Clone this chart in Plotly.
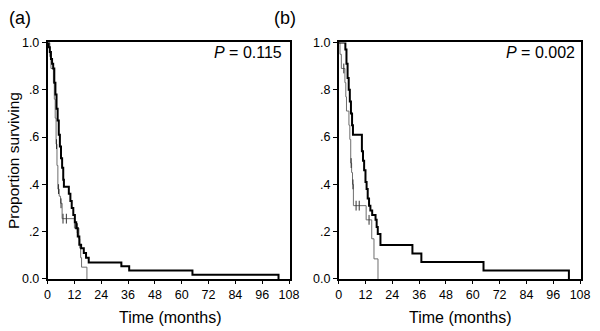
import plotly.graph_objects as go

# ---------------- data ----------------
# Panel (a)
a_thick_t = [0, 0.5, 1.0, 1.5, 2.0, 2.5, 3.0, 3.5, 4.0, 4.5, 5.0, 5.5, 6.0, 6.5, 7.0, 7.3, 9.5, 10.2, 10.8, 11.5, 12.2, 12.8, 13.5, 14.2, 15.0, 16.2, 17.2, 18.4, 33.0, 36.5, 64.8, 103.3]
a_thick_s = [1.0, 0.98, 0.96, 0.93, 0.91, 0.89, 0.83, 0.78, 0.72, 0.67, 0.61, 0.56, 0.51, 0.47, 0.42, 0.39, 0.36, 0.33, 0.30, 0.27, 0.24, 0.215, 0.18, 0.145, 0.13, 0.11, 0.09, 0.07, 0.054, 0.036, 0.018, 0.0]
a_thin_t = [0, 1.0, 1.5, 2.6, 3.0, 3.4, 3.8, 4.2, 4.6, 5.2, 5.8, 6.5, 12.0, 14.0, 14.4, 14.8, 15.2, 17.6]
a_thin_s = [1.0, 0.94, 0.89, 0.83, 0.76, 0.68, 0.57, 0.48, 0.38, 0.35, 0.32, 0.255, 0.215, 0.17, 0.13, 0.09, 0.05, 0.0]
a_thin_censor = [4.0, 4.9, 6.0, 6.9, 8.4, 13.3]
a_pvalue = "0.115"

# Panel (b)
b_thick_t = [0, 3.0, 3.5, 4.0, 4.5, 5.0, 5.5, 6.0, 6.4, 10.4, 10.9, 11.4, 12.0, 12.5, 13.0, 13.6, 14.2, 15.0, 16.5, 17.0, 17.5, 18.7, 33.0, 37.0, 64.8, 103.0]
b_thick_s = [1.0, 0.97, 0.91, 0.85, 0.80, 0.75, 0.70, 0.65, 0.61, 0.54, 0.50, 0.46, 0.41, 0.38, 0.34, 0.31, 0.29, 0.27, 0.25, 0.22, 0.19, 0.144, 0.108, 0.072, 0.036, 0.0]
b_thin_t = [0, 0.6, 1.2, 2.8, 3.2, 3.5, 4.6, 5.0, 5.4, 5.8, 6.2, 6.6, 12.3, 14.8, 15.8, 17.6]
b_thin_s = [1.0, 0.95, 0.89, 0.83, 0.77, 0.71, 0.65, 0.59, 0.49, 0.45, 0.40, 0.31, 0.25, 0.17, 0.085, 0.0]
b_thin_censor = [2.3, 5.6, 6.4, 7.8, 9.2, 13.6]
b_pvalue = "0.002"

x_ticks = [0, 12, 24, 36, 48, 60, 72, 84, 96, 108]
y_ticks = [0.0, 0.2, 0.4, 0.6, 0.8, 1.0]
y_ticktext = ["0.0", ".2", ".4", ".6", ".8", "1.0"]


def step_value(ts, ss, x):
    v = ss[0]
    for t, s in zip(ts, ss):
        if t <= x:
            v = s
    return v


W, H = 600, 331
FONT = "Liberation Sans, Arial, Helvetica, sans-serif"
THIN = "#6e6e6e"

fig = go.Figure()

panels = [
    ("x", "y", a_thick_t, a_thick_s, a_thin_t, a_thin_s, a_thin_censor),
    ("x2", "y2", b_thick_t, b_thick_s, b_thin_t, b_thin_s, b_thin_censor),
]
for xa, ya, tt, ts_, nt, ns, cen in panels:
    fig.add_trace(go.Scatter(x=nt, y=ns, mode="lines", line=dict(color=THIN, width=1, shape="hv"),
                             xaxis=xa, yaxis=ya, showlegend=False, hoverinfo="skip"))
    fig.add_trace(go.Scatter(x=cen, y=[step_value(nt, ns, c) for c in cen], mode="markers",
                             marker=dict(symbol="line-ns", size=7, line=dict(color="#333", width=1)),
                             xaxis=xa, yaxis=ya, showlegend=False, hoverinfo="skip"))
    fig.add_trace(go.Scatter(x=tt, y=ts_, mode="lines", line=dict(color="black", width=2, shape="hv"),
                             xaxis=xa, yaxis=ya, showlegend=False, hoverinfo="skip"))

ydom = [1 - 284 / H, 1 - 37 / H]
xcommon = dict(range=[0, 108.5], tickvals=x_ticks, ticks="outside", ticklen=3, tickcolor="black",
               showline=True, linecolor="black", linewidth=1.5, mirror=True, showgrid=False,
               zeroline=False, tickfont=dict(family=FONT, size=12.5, color="black"))
ycommon = dict(range=[0, 1.0], tickvals=y_ticks, ticktext=y_ticktext, ticks="outside", ticklen=4,
               tickcolor="black", showline=True, linecolor="black", linewidth=1.5, mirror=True,
               showgrid=False, zeroline=False, tickfont=dict(family=FONT, size=12.5, color="black"),
               domain=ydom)

fig.update_layout(
    width=W, height=H, margin=dict(l=0, r=0, t=0, b=0),
    paper_bgcolor="white", plot_bgcolor="white",
    xaxis=dict(domain=[45.5 / W, 293 / W], anchor="y", **xcommon),
    yaxis=dict(anchor="x", **ycommon),
    xaxis2=dict(domain=[342.5 / W, 590 / W], anchor="y2", **xcommon),
    yaxis2=dict(anchor="x2", **ycommon),
)

ann = [
    dict(text="(a)", x=17.5 / W, y=1 - 12 / H, size=18, xanchor="center"),
    dict(text="(b)", x=287.5 / W, y=1 - 12 / H, size=18, xanchor="center"),
    dict(text="Time (months)", x=171 / W, y=1 - 324 / H, size=16, xanchor="center"),
    dict(text="Time (months)", x=467 / W, y=1 - 324 / H, size=16, xanchor="center"),
    dict(text="<i>P</i> = " + a_pvalue, x=287 / W, y=1 - 47 / H, size=16, xanchor="right"),
    dict(text="<i>P</i> = " + b_pvalue, x=586 / W, y=1 - 47 / H, size=16, xanchor="right"),
]
for a in ann:
    fig.add_annotation(text=a["text"], x=a["x"], y=a["y"], xref="paper", yref="paper",
                       xanchor=a["xanchor"], yanchor="middle", showarrow=False,
                       font=dict(family=FONT, size=a["size"], color="black"))
fig.add_annotation(text="Proportion surviving", x=10 / W, y=1 - 160 / H, xref="paper", yref="paper",
                   xanchor="center", yanchor="middle", textangle=-90, showarrow=False,
                   font=dict(family=FONT, size=15.5, color="black"))

fig.write_html("out.html", config={"displayModeBar": False},
               post_script="document.body.style.margin='0';")
